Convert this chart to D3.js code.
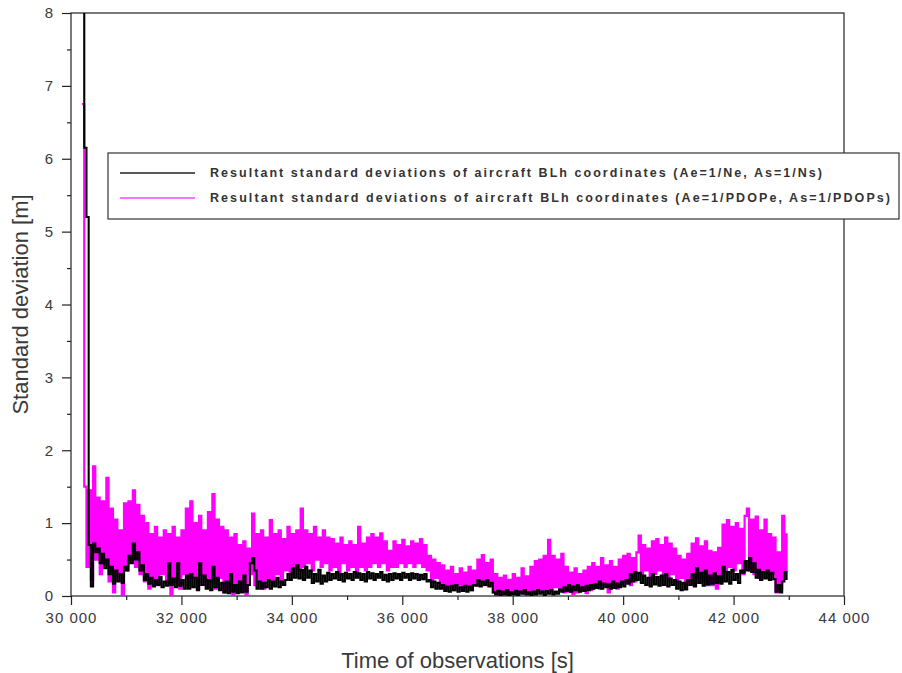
<!DOCTYPE html>
<html>
<head>
<meta charset="utf-8">
<script src="https://cdn.jsdelivr.net/npm/d3@7"></script>
<style>
  body { margin: 0; background: #fff; }
  #graph-container { width: 902px; height: 673px; }
  text { font-family: 'Liberation Sans', Arial, sans-serif; }
</style>
</head>
<body>
<div id="graph-container"></div>
<script>

/////////////////////////////////////////////////////////////////////////////
                      ///////    Data    ///////
/////////////////////////////////////////////////////////////////////////////

// samples start at 30200 s, one reading every 40 s
var t_start = 30200;
var t_step = 40;

var x_ticks = [30000, 32000, 34000, 36000, 38000, 40000, 42000, 44000];
var y_ticks = [0, 1, 2, 3, 4, 5, 6, 7, 8];

var legend_labels = [
    'Resultant standard deviations of aircraft BLh coordinates (Ae=1/Ne, As=1/Ns)',
    'Resultant standard deviations of aircraft BLh coordinates (Ae=1/PDOPe, As=1/PDOPs)'
];

var sd_pdop = [
    6.75, 1.5, 0.4, 1.45, 0.22, 1.78, 0.5, 1.35, 0.3, 1.3, 0.45, 1.62, 0.2, 1.2, 0.05, 1.05, 0.3, 0.9, 0.0, 1.27,
    0.35, 1.3, 0.5, 1.45, 0.4, 1.25, 0.3, 1.1, 0.2, 1.0, 0.1, 0.85, 0.25, 0.95, 0.15, 0.8, 0.3, 0.9, 0.2, 0.85,
    0.0, 0.95, 0.2, 0.8, 0.1, 0.9, 0.3, 1.2, 0.15, 1.3, 0.25, 1.0, 0.1, 1.1, 0.3, 0.9, 0.15, 1.15, 0.2, 1.4,
    0.1, 1.05, 0.25, 0.95, 0.05, 0.9, 0.1, 0.8, 0.0, 0.85, 0.05, 0.7, 0.1, 0.75, 0.0, 0.65, 0.3, 1.13, 0.15, 0.85,
    0.2, 0.9, 0.1, 0.8, 0.25, 1.04, 0.15, 0.85, 0.3, 0.9, 0.2, 0.78, 0.35, 0.95, 0.3, 0.85, 0.4, 0.9, 0.35, 1.2,
    0.4, 0.9, 0.45, 0.85, 0.35, 0.95, 0.5, 0.8, 0.4, 0.9, 0.45, 0.8, 0.35, 0.78, 0.4, 0.72, 0.3, 0.8, 0.45, 0.7,
    0.35, 0.75, 0.4, 0.7, 0.3, 0.95, 0.4, 0.72, 0.35, 0.8, 0.4, 0.85, 0.45, 0.8, 0.4, 0.86, 0.45, 0.75, 0.35, 0.62,
    0.4, 0.75, 0.4, 0.7, 0.45, 0.77, 0.4, 0.68, 0.45, 0.75, 0.4, 0.72, 0.45, 0.78, 0.4, 0.7, 0.35, 0.55, 0.2, 0.5,
    0.25, 0.45, 0.15, 0.42, 0.1, 0.35, 0.15, 0.4, 0.08, 0.3, 0.15, 0.38, 0.1, 0.32, 0.12, 0.4, 0.08, 0.35, 0.15, 0.5,
    0.2, 0.56, 0.15, 0.45, 0.2, 0.5, 0.05, 0.3, 0.02, 0.25, 0.05, 0.28, 0.0, 0.22, 0.03, 0.3, 0.02, 0.25, 0.05, 0.38,
    0.02, 0.27, 0.04, 0.4, 0.05, 0.48, 0.1, 0.5, 0.06, 0.55, 0.1, 0.77, 0.1, 0.55, 0.12, 0.5, 0.08, 0.58, 0.05, 0.4,
    0.06, 0.32, 0.03, 0.38, 0.05, 0.3, 0.08, 0.35, 0.04, 0.4, 0.08, 0.45, 0.12, 0.4, 0.1, 0.52, 0.15, 0.42, 0.05, 0.48,
    0.12, 0.4, 0.1, 0.5, 0.15, 0.55, 0.2, 0.58, 0.15, 0.52, 0.2, 0.6, 0.83, 0.3, 0.7, 0.35, 0.65, 0.25, 0.75, 0.3,
    0.78, 0.35, 0.7, 0.3, 0.8, 0.25, 0.72, 0.3, 0.65, 0.2, 0.55, 0.25, 0.5, 0.15, 0.58, 0.2, 0.72, 0.15, 0.79, 0.25,
    0.68, 0.2, 0.75, 0.15, 0.62, 0.15, 0.6, 0.1, 0.66, 0.2, 0.98, 0.35, 1.04, 0.4, 0.95, 0.35, 1.0, 0.45, 0.92, 0.3,
    1.1, 1.2, 0.35, 1.05, 0.3, 1.09, 0.25, 0.9, 0.3, 1.05, 0.25, 0.85, 0.3, 0.8, 0.05, 0.6, 0.1, 1.1, 0.35, 0.86
];

var sd_ns = [
    9.0, 6.15, 5.2, 0.7, 0.13, 0.72, 0.6, 0.65, 0.45, 0.58, 0.38, 0.5, 0.3, 0.4, 0.17, 0.35, 0.2, 0.3, 0.18, 0.4,
    0.35, 0.55, 0.45, 0.72, 0.5, 0.6, 0.35, 0.42, 0.22, 0.3, 0.17, 0.25, 0.13, 0.22, 0.15, 0.26, 0.12, 0.2, 0.14, 0.45,
    0.15, 0.24, 0.12, 0.45, 0.14, 0.22, 0.1, 0.28, 0.1, 0.3, 0.12, 0.25, 0.08, 0.45, 0.15, 0.28, 0.1, 0.22, 0.08, 0.4,
    0.12, 0.25, 0.08, 0.18, 0.05, 0.2, 0.04, 0.3, 0.06, 0.15, 0.04, 0.2, 0.05, 0.28, 0.06, 0.15, 0.45, 0.52, 0.35, 0.1,
    0.2, 0.1, 0.18, 0.12, 0.22, 0.1, 0.2, 0.13, 0.25, 0.12, 0.2, 0.15, 0.22, 0.3, 0.22, 0.38, 0.25, 0.42, 0.24, 0.36,
    0.22, 0.4, 0.25, 0.35, 0.18, 0.3, 0.2, 0.36, 0.17, 0.28, 0.2, 0.32, 0.22, 0.3, 0.24, 0.33, 0.22, 0.3, 0.2, 0.32,
    0.24, 0.3, 0.22, 0.33, 0.25, 0.31, 0.22, 0.3, 0.2, 0.33, 0.24, 0.31, 0.22, 0.3, 0.25, 0.33, 0.22, 0.29, 0.2, 0.3,
    0.22, 0.31, 0.24, 0.3, 0.22, 0.32, 0.25, 0.3, 0.22, 0.31, 0.24, 0.3, 0.22, 0.29, 0.23, 0.3, 0.2, 0.22, 0.12, 0.2,
    0.1, 0.18, 0.1, 0.15, 0.07, 0.13, 0.06, 0.14, 0.08, 0.15, 0.06, 0.12, 0.07, 0.14, 0.06, 0.13, 0.08, 0.15, 0.14, 0.22,
    0.13, 0.2, 0.15, 0.22, 0.13, 0.18, 0.05, 0.02, 0.07, 0.01, 0.06, 0.02, 0.08, 0.01, 0.05, 0.02, 0.07, 0.01, 0.06, 0.03,
    0.08, 0.02, 0.05, 0.01, 0.06, 0.02, 0.08, 0.03, 0.06, 0.01, 0.07, 0.03, 0.08, 0.02, 0.06, 0.03, 0.09, 0.06, 0.12, 0.07,
    0.15, 0.06, 0.13, 0.08, 0.15, 0.06, 0.12, 0.07, 0.14, 0.08, 0.15, 0.1, 0.16, 0.11, 0.2, 0.1, 0.17, 0.12, 0.16, 0.1,
    0.2, 0.11, 0.17, 0.12, 0.2, 0.13, 0.22, 0.17, 0.3, 0.2, 0.33, 0.22, 0.32, 0.18, 0.28, 0.15, 0.25, 0.13, 0.3, 0.16,
    0.26, 0.14, 0.28, 0.15, 0.3, 0.13, 0.24, 0.15, 0.22, 0.1, 0.2, 0.08, 0.18, 0.09, 0.22, 0.15, 0.3, 0.13, 0.38, 0.18,
    0.32, 0.14, 0.35, 0.16, 0.28, 0.17, 0.31, 0.18, 0.27, 0.17, 0.4, 0.2, 0.33, 0.17, 0.36, 0.22, 0.3, 0.18, 0.35, 0.32,
    0.48, 0.35, 0.52, 0.33, 0.45, 0.25, 0.36, 0.22, 0.33, 0.24, 0.35, 0.22, 0.32, 0.23, 0.06, 0.15, 0.05, 0.2, 0.33, 0.22
];

/////////////////////////////////////////////////////////////////////////////
                      ///////    Set Up Chart    ///////
/////////////////////////////////////////////////////////////////////////////

var margin = {top: 13, right: 58, bottom: 77, left: 71};
var W = 902, H = 673;
var w = W - margin.left - margin.right;
var h = H - margin.top - margin.bottom;

var text_color = '#3a3a3a';
var fmt = d3.formatLocale({decimal: '.', thousands: ' ', grouping: [3], currency: ['', '']}).format(',');

var svg = d3.select('#graph-container').append('svg').attr('width', W).attr('height', H);
var g = svg.append('g').attr('transform', `translate(${margin.left},${margin.top})`);

var x = d3.scaleLinear().domain([30000, 44000]).range([0, w]);
var y = d3.scaleLinear().domain([0, 8]).range([h, 0]);

svg.append('defs').append('clipPath').attr('id', 'plot-clip')
   .append('rect').attr('width', w).attr('height', h);

// minor ticks first, then major ticks with labels
var x_minor = d3.range(31000, 44000, 2000);
var y_minor = d3.range(0.5, 8, 1);

g.append('g').attr('class', 'axis').attr('transform', `translate(0,${h})`)
 .call(d3.axisBottom(x).tickValues(x_minor).tickSize(4).tickFormat(''));
g.append('g').attr('class', 'axis').attr('transform', `translate(0,${h})`)
 .call(d3.axisBottom(x).tickValues(x_ticks).tickSize(9).tickPadding(7).tickFormat(fmt));

g.append('g').attr('class', 'axis')
 .call(d3.axisLeft(y).tickValues(y_minor).tickSize(4).tickFormat(''));
g.append('g').attr('class', 'axis')
 .call(d3.axisLeft(y).tickValues(y_ticks).tickSize(9).tickPadding(8).tickFormat(d3.format('d')));

g.selectAll('.axis .domain').remove();
g.selectAll('.axis line').attr('stroke', '#222').attr('stroke-width', 1.2);
g.selectAll('.axis text')
 .attr('fill', text_color)
 .style('font-size', '15px')
 .style('letter-spacing', '1px');

g.append('rect')
 .attr('width', w).attr('height', h)
 .attr('fill', 'none').attr('stroke', '#222').attr('stroke-width', 1.2);

/////////////////////////////////////////////////////////////////////////////
                      ///////    Series    ///////
/////////////////////////////////////////////////////////////////////////////

// step curve: every reading becomes a vertical stroke, like the dense original trace
var line = d3.line()
    .curve(d3.curveStepAfter)
    .x((d, i) => x(t_start + i * t_step))
    .y(d => y(d));

var plot = g.append('g').attr('clip-path', 'url(#plot-clip)');

plot.append('path').datum(sd_pdop)
    .attr('d', line).attr('fill', 'none')
    .attr('stroke', '#ff00ff').attr('stroke-width', 2.2);

plot.append('path').datum(sd_ns)
    .attr('d', line).attr('fill', 'none')
    .attr('stroke', '#000').attr('stroke-width', 2.1);

/////////////////////////////////////////////////////////////////////////////
                      ///////    Titles & Legend    ///////
/////////////////////////////////////////////////////////////////////////////

svg.append('text')
   .attr('x', margin.left + w / 2).attr('y', 668)
   .attr('text-anchor', 'middle').attr('fill', text_color)
   .style('font-size', '22px')
   .text('Time of observations [s]');

svg.append('text')
   .attr('transform', `translate(28,${margin.top + h / 2}) rotate(-90)`)
   .attr('text-anchor', 'middle').attr('fill', text_color)
   .style('font-size', '22px')
   .text('Standard deviation [m]');

var legend = svg.append('g').attr('transform', 'translate(108,153)');

legend.append('rect')
      .attr('width', 791).attr('height', 66)
      .attr('fill', '#fff').attr('stroke', '#333').attr('stroke-width', 1.2);

var legend_colors = ['#222', '#ff44ff'];
var legend_widths = [612, 680];

legend.selectAll('.item').data(legend_labels).enter()
      .append('g').attr('class', 'item')
      .attr('transform', (d, i) => `translate(0,${20 + i * 25})`)
      .each(function (d, i) {
          var item = d3.select(this);
          item.append('line').attr('x1', 12).attr('x2', 87)
              .attr('stroke', legend_colors[i]).attr('stroke-width', 1.6);
          item.append('text').attr('x', 102).attr('dy', '0.35em')
              .attr('fill', '#333')
              .attr('textLength', legend_widths[i]).attr('lengthAdjust', 'spacing')
              .style('font-size', '12.5px').style('font-weight', 'bold')
              .text(d);
      });

</script>
</body>
</html>
